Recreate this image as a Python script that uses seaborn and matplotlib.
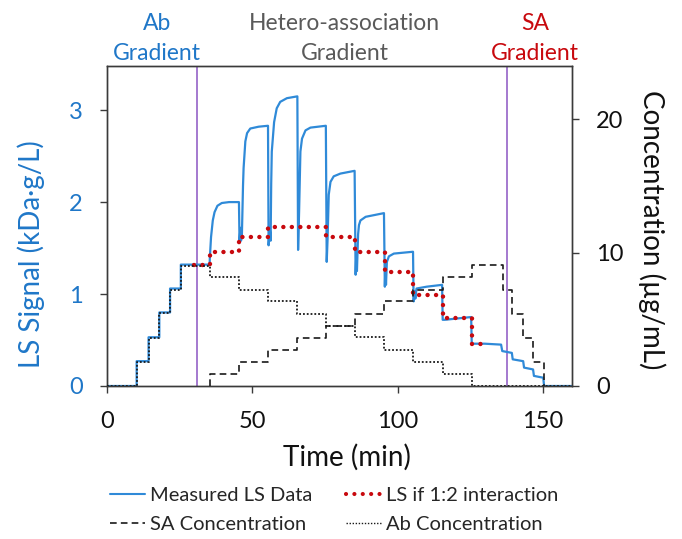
import matplotlib
matplotlib.use("Agg")
import matplotlib.pyplot as plt
import matplotlib.transforms as mtransforms
from matplotlib.lines import Line2D
import pandas as pd
import seaborn as sns

# ---------------- data ----------------
# Measured LS signal (kDa·g/L) vs time (min)
ls_time = [0, 10.2, 10.2, 14.3, 14.3, 18.0, 18.0, 21.7, 21.7, 25.4, 25.4, 35.3,
           35.4, 35.8, 36.4, 37.0, 38.0, 39.5, 42.0, 45.4,
           45.6, 45.9, 46.1, 46.4, 46.8, 47.0, 47.6, 48.2, 49.3, 52.2, 55.4,
           55.6, 56.0, 56.3, 56.5, 56.7, 57.5, 58.4, 59.6, 61.9, 65.5,
           65.75, 66.1, 66.55, 67.1, 68.3, 70.0, 75.3,
           75.6, 75.9, 76.3, 76.9, 78.0, 80.3, 85.2,
           85.55, 85.8, 86.0, 86.4, 86.7, 87.2, 89.0, 95.3,
           95.6, 95.8, 96.0, 96.3, 97.0, 98.7, 105.3,
           105.5, 105.8, 106.1, 106.5, 110.0, 115.3,
           115.5, 116.2, 125.3,
           125.5, 130.0, 135.6,
           136.0, 139.3, 139.6, 143.2, 143.5, 146.6, 146.9, 150.1, 150.4, 160.0]
ls_value = [0, 0, 0.27, 0.27, 0.53, 0.53, 0.80, 0.80, 1.06, 1.06, 1.32, 1.32,
            1.40, 1.62, 1.80, 1.89, 1.96, 1.99, 2.00, 2.00,
            1.57, 1.72, 1.58, 1.62, 2.18, 2.37, 2.66, 2.75, 2.80, 2.82, 2.83,
            1.53, 1.72, 1.58, 2.20, 2.55, 2.87, 3.02, 3.09, 3.13, 3.15,
            1.48, 1.90, 2.55, 2.69, 2.78, 2.81, 2.83,
            1.35, 1.60, 2.08, 2.22, 2.28, 2.31, 2.34,
            1.21, 1.45, 1.25, 1.65, 1.75, 1.80, 1.84, 1.88,
            1.08, 1.30, 1.10, 1.35, 1.41, 1.44, 1.46,
            0.92, 1.03, 0.95, 1.06, 1.08, 1.10,
            0.72, 0.72, 0.75,
            0.46, 0.46, 0.45,
            0.38, 0.36, 0.29, 0.27, 0.20, 0.18, 0.11, 0.09, 0.0, 0.0]

# LS expected for a 1:2 interaction (step values, kDa·g/L)
red_time = [29.8, 35.3, 45.4, 55.5, 75.4, 85.4, 95.5, 105.4, 115.5, 125.5, 128.6]
red_value = [1.32, 1.46, 1.62, 1.725, 1.62, 1.46, 1.24, 0.99, 0.735, 0.46, 0.46]

# Ab concentration (µg/mL) steps
ab_time = [0, 10.2, 14.3, 18.0, 21.7, 25.4, 35.3, 45.3, 55.3, 65.4, 75.5, 85.5,
           95.4, 105.4, 115.5, 125.6, 160]
ab_conc = [0, 1.8, 3.6, 5.5, 7.2, 9.0, 8.2, 7.2, 6.4, 5.4, 4.5, 3.7,
           2.7, 1.8, 0.9, 0, 0]

# SA concentration (µg/mL) steps
sa_time = [35.3, 35.3, 45.3, 55.3, 65.4, 75.5, 85.5, 95.4, 105.4, 115.5, 125.6,
           136.1, 139.5, 143.0, 146.7, 150.2, 150.2]
sa_conc = [0, 0.9, 1.8, 2.7, 3.6, 4.5, 5.4, 6.4, 7.2, 8.2, 9.1,
           7.2, 5.4, 3.6, 1.8, 0, 0]

region_bounds = [30.9, 137.5]
region_labels = [("Ab", "Gradient"), ("Hetero-association", "Gradient"), ("SA", "Gradient")]
region_label_x = [17.2, 81.8, 147.2]

x_ticks = [0, 50, 100, 150]
left_ticks = [0, 1, 2, 3]
right_ticks = [0, 10, 20]

# ---------------- style ----------------
BLUE_LINE = "#2f8ad8"
BLUE_TEXT = "#1f77c8"
RED = "#c8090e"
GREY = "#5a5a5a"
PURPLE = "#8b55c2"
AXC = "#3a3a3a"

sns.set_theme(style="ticks")
plt.rcParams['font.family'] = ['Lato', 'DejaVu Sans']

fig = plt.figure(figsize=(6.82, 5.39), dpi=100)
ax = fig.add_axes([107 / 682, 1 - 386 / 539, (572 - 107) / 682, (386 - 66) / 539])
ax2 = ax.twinx()

for b in region_bounds:
    ax.axvline(b, color=PURPLE, lw=1.1, zorder=1)

ls_df = pd.DataFrame({"t": ls_time, "v": ls_value})
sns.lineplot(data=ls_df, x="t", y="v", ax=ax, estimator=None, sort=False,
             color=BLUE_LINE, lw=1.6, zorder=2)

red_df = pd.DataFrame({"t": red_time, "v": red_value})
sns.lineplot(data=red_df, x="t", y="v", ax=ax, estimator=None, sort=False,
             drawstyle="steps-post", color=RED, lw=3.2,
             linestyle=(0, (0.01, 1.9)), dash_capstyle="round", zorder=3)

ab_df = pd.DataFrame({"t": ab_time, "c": ab_conc})
sns.lineplot(data=ab_df, x="t", y="c", ax=ax2, estimator=None, sort=False,
             drawstyle="steps-post", color="#1a1a1a", lw=1.3,
             linestyle=(0, (1, 1.1)), zorder=3)

sa_df = pd.DataFrame({"t": sa_time, "c": sa_conc})
sns.lineplot(data=sa_df, x="t", y="c", ax=ax2, estimator=None, sort=False,
             drawstyle="steps-post", color="#1a1a1a", lw=1.2,
             linestyle=(0, (4, 2.5)), zorder=3)

ax.set_xlim(0, 160)
ax.set_ylim(0, 3.48)
ax2.set_ylim(0, 24)
ax.set_xticks(x_ticks)
ax.set_yticks(left_ticks)
ax2.set_yticks(right_ticks)

ax.set_xlabel("Time (min)", fontsize=20, color="#111111")
ax.xaxis.label.set_va("center")
ax.xaxis.set_label_coords(0.516, -0.222)

ax.set_ylabel("LS Signal (kDa·g/L)", fontsize=20, color=BLUE_TEXT)
ax.yaxis.label.set_va("center")
ax.yaxis.set_label_coords(-0.163, 0.411)

ax2.set_ylabel("Concentration (µg/mL)", fontsize=20, color="#111111", rotation=270)
ax2.yaxis.label.set_va("center")
ax2.yaxis.label.set_ha("center")
ax2.yaxis.set_label_coords(1.172, 0.49)

ax.tick_params(axis="x", direction="out", length=5, width=1, colors=AXC,
               labelsize=17, labelcolor="#111111", pad=13)
ax.tick_params(axis="y", direction="out", length=5, width=1, colors=AXC,
               labelsize=17, labelcolor=BLUE_TEXT, pad=12.5)
ax2.tick_params(axis="y", direction="out", length=5, width=1, colors=AXC,
                labelsize=17, labelcolor="#111111", pad=12.5)

for a in (ax, ax2):
    for s in a.spines.values():
        s.set_visible(True)
        s.set_color(AXC)
        s.set_linewidth(1.0)

# region labels above the plot
trans = mtransforms.blended_transform_factory(ax.transData, fig.transFigure)
label_colors = [BLUE_TEXT, GREY, RED]
for (l1, l2), xpos, col in zip(region_labels, region_label_x, label_colors):
    ax.text(xpos, 1 - 30 / 539, l1, transform=trans, ha="center", va="baseline",
            fontsize=16.5, color=col)
    ax.text(xpos, 1 - 59.5 / 539, l2, transform=trans, ha="center", va="baseline",
            fontsize=16.5, color=col)

handles = [
    Line2D([], [], color=BLUE_LINE, lw=1.5),
    Line2D([], [], color="#1a1a1a", lw=1.2, linestyle=(0, (4, 2.5))),
    Line2D([], [], color=RED, lw=3.0, linestyle=(0, (0.01, 2.0)), dash_capstyle="round"),
    Line2D([], [], color="#1a1a1a", lw=1.0, linestyle=(0, (1, 1.2))),
]
labels = ["Measured LS Data", "SA Concentration", "LS if 1:2 interaction", "Ab Concentration"]
fig.legend(handles, labels, ncol=2, loc="center left", bbox_to_anchor=(110 / 682, 1 - 510 / 539),
           frameon=False, fontsize=14.5, handlelength=1.75, handletextpad=0.25,
           columnspacing=1.65, labelspacing=0.55, borderpad=0, borderaxespad=0)

fig.savefig("out.png", dpi=100)
